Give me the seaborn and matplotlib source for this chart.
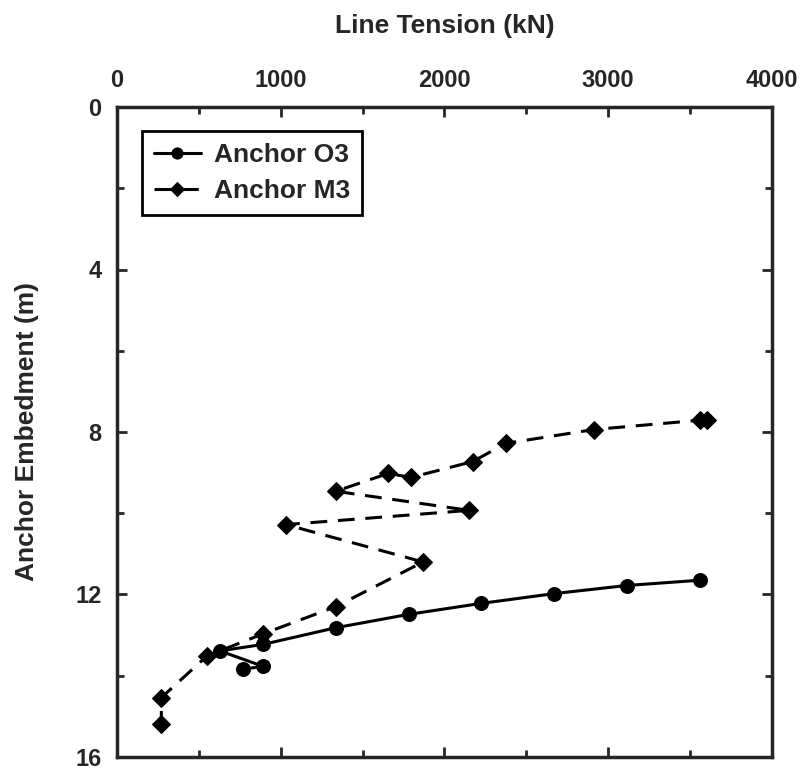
import matplotlib
matplotlib.use('Agg')
import matplotlib.pyplot as plt
from matplotlib.ticker import MultipleLocator
import seaborn as sb
import pandas as pd

# Anchor O3 (solid, circles)
o3_tension = [3560, 3112, 2669, 2225, 1782, 1337, 893, 629, 893, 771]
o3_depth = [11.65, 11.78, 11.98, 12.22, 12.49, 12.82, 13.23, 13.39, 13.77, 13.84]

# Anchor M3 (dashed, diamonds)
m3_tension = [3605, 3560, 2913, 2376, 2172, 1795, 1657, 1337, 2151, 1032, 1870, 1337, 893, 552, 272, 272]
m3_depth = [7.71, 7.71, 7.94, 8.28, 8.73, 9.12, 9.02, 9.46, 9.93, 10.28, 11.2, 12.3, 12.97, 13.51, 14.54, 15.18]

labels = ['Anchor O3', 'Anchor M3']

sb.set_style('ticks')
plt.rcParams['font.family'] = ['Liberation Sans', 'DejaVu Sans']
plt.rcParams['font.weight'] = 'bold'

o3 = pd.DataFrame({'tension': o3_tension, 'depth': o3_depth})
m3 = pd.DataFrame({'tension': m3_tension, 'depth': m3_depth})

fig = plt.figure(figsize=(8, 7.7), dpi=100)
ax = fig.add_axes([0.146, 0.017, 0.819, 0.844])

# estimator=None so every point is drawn in the given order
sb.lineplot(x='tension', y='depth', data=o3, sort=False, estimator=None, ax=ax,
            color='black', marker='o', markersize=10, linewidth=2.2,
            markeredgecolor='black', label=labels[0])
sb.lineplot(x='tension', y='depth', data=m3, sort=False, estimator=None, ax=ax,
            color='black', marker='D', markersize=9, linewidth=2.2,
            linestyle=(0, (5.5, 3.5)), markeredgecolor='black', label=labels[1])

ax.set_xlim(0, 4000)
ax.set_ylim(16, 0)
ax.xaxis.set_major_locator(MultipleLocator(1000))
ax.xaxis.set_minor_locator(MultipleLocator(500))
ax.yaxis.set_major_locator(MultipleLocator(4))
ax.yaxis.set_minor_locator(MultipleLocator(2))
ax.xaxis.set_ticks_position('both')
ax.yaxis.set_ticks_position('both')
ax.xaxis.set_label_position('top')
ax.tick_params(axis='x', which='both', labeltop=True, labelbottom=False)
ax.tick_params(which='major', direction='in', length=7, width=2, labelsize=17, pad=11)
ax.tick_params(which='minor', direction='in', length=5, width=2)
for lbl in ax.get_xticklabels() + ax.get_yticklabels():
    lbl.set_fontweight('bold')
for s in ax.spines.values():
    s.set_linewidth(2.5)
    s.set_visible(True)

ax.set_xlabel('Line Tension (kN)', fontsize=19, fontweight='bold', labelpad=26)
ax.set_ylabel('Anchor Embedment (m)', fontsize=19, fontweight='bold', labelpad=26)

leg = ax.legend(loc='upper left', bbox_to_anchor=(0.038, 0.963), borderaxespad=0,
                fontsize=19, frameon=True, fancybox=False, edgecolor='black',
                handlelength=1.8, handletextpad=0.5, borderpad=0.45,
                labelspacing=0.45, markerscale=0.8)
leg.get_frame().set_linewidth(2)
leg.get_frame().set_alpha(1)
for t in leg.get_texts():
    t.set_fontweight('bold')

fig.savefig('out.png', dpi=100)
